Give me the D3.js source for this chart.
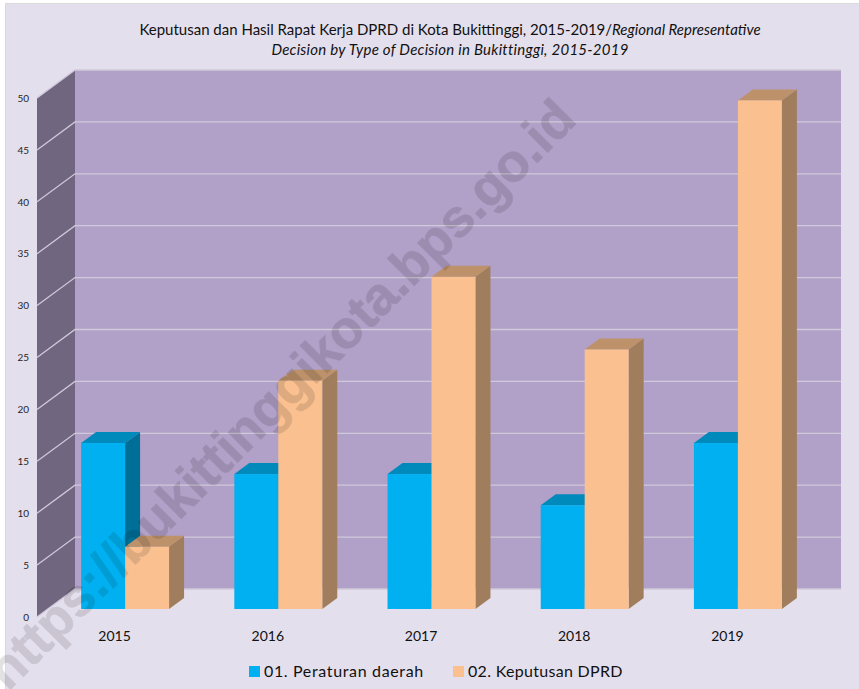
<!DOCTYPE html>
<html>
<head>
<meta charset="utf-8">
<script src="https://cdn.jsdelivr.net/npm/d3@7"></script>
<style>
    html, body { margin: 0; padding: 0; background: #fff; }
    svg { display: block; font-family: Lato, "Open Sans", sans-serif; }
</style>
</head>
<body>
<div id="chart"></div>
<script>
// values
const years = ["2015", "2016", "2017", "2018", "2019"];
const seriesNames = ["01. Peraturan daerah", "02. Keputusan DPRD"];
const perda = [16, 13, 13, 10, 16];
const keputusan = [6, 22, 32, 25, 49];
const yTicks = [0, 5, 10, 15, 20, 25, 30, 35, 40, 45, 50];
const titleLine1 = "Keputusan dan Hasil Rapat Kerja DPRD di Kota Bukittinggi, 2015-2019/";
const titleLine1b = "Regional Representative";
const titleLine2 = "Decision by Type of Decision in Bukittinggi, 2015-2019";
const watermark = "https://bukittinggikota.bps.go.id";

const width = 859, height = 689;

// 3d box of the chart
const wallDx = 38, wallDy = -28;   // depth of the walls
const barDx = 15, barDy = -11;     // depth of a bar
const left = 37, right = 803, top0 = 98, bottom0 = 617;
const barBase = 609;

const colors = {
    bg: "#e4dfec", back: "#b1a0c7", side: "#71667f", grid: "#d0c9da",
    blue: "#00b0f0", blueTop: "#0089bb", blueSide: "#006f98",
    orange: "#fac090", orangeTop: "#bd9169", orangeSide: "#a07d5c"
};

const svg = d3.select("#chart").append("svg")
    .attr("width", width)
    .attr("height", height);

// chart area
svg.append("rect")
    .attr("x", 5.5).attr("y", 3.5)
    .attr("width", width - 5).attr("height", height)
    .attr("fill", colors.bg)
    .attr("stroke", "#d9d9d9");

// scales
const x = d3.scaleBand().domain(years).range([left, right]);
const xInner = d3.scaleBand().domain(seriesNames)
    .range([x.bandwidth() * 0.288, x.bandwidth() * 0.862]);
const y = d3.scaleLinear().domain([0, 50]).range([bottom0, top0]);
const yBar = d3.scaleLinear().domain([0, 50]).range([barBase, barBase - (bottom0 - top0)]);

// back wall and side wall
svg.append("rect")
    .attr("x", left + wallDx).attr("y", y(50) + wallDy)
    .attr("width", right - left).attr("height", y(0) - y(50))
    .attr("fill", colors.back);

svg.append("path")
    .attr("d", "M" + left + "," + y(0) + "L" + left + "," + y(50)
        + "L" + (left + wallDx) + "," + (y(50) + wallDy)
        + "L" + (left + wallDx) + "," + (y(0) + wallDy) + "Z")
    .attr("fill", colors.side);

// gridlines run over both walls
yTicks.forEach(t => {
    svg.append("polyline")
        .attr("points", [
            [left, y(t)],
            [left + wallDx, y(t) + wallDy],
            [right + wallDx, y(t) + wallDy]
        ].join(" "))
        .attr("fill", "none")
        .attr("stroke", colors.grid)
        .attr("stroke-width", 1.3);
});

// y axis
const yAxis = d3.axisLeft(y).tickValues(yTicks).tickSize(0).tickPadding(8);
const yG = svg.append("g")
    .attr("transform", "translate(" + left + ",0)")
    .call(yAxis);
yG.select(".domain").remove();
yG.selectAll("text")
    .style("font-family", "Lato, sans-serif")
    .style("font-size", "10px")
    .attr("fill", "#262626");

// bars, front face plus top and side
function drawBars(values, name, face, topCol, sideCol) {
    const g = svg.append("g").selectAll("g")
        .data(values)
        .enter()
        .append("g")
        .attr("class", "bar");

    const bx = (d, i) => x(years[i]) + xInner(name);
    const bw = xInner.bandwidth();

    g.append("path")
        .attr("d", (d, i) => "M" + (bx(d, i) + bw) + "," + barBase
            + "L" + (bx(d, i) + bw) + "," + yBar(d)
            + "l" + barDx + "," + barDy
            + "L" + (bx(d, i) + bw + barDx) + "," + (barBase + barDy) + "Z")
        .attr("fill", sideCol);

    g.append("path")
        .attr("d", (d, i) => "M" + bx(d, i) + "," + yBar(d)
            + "l" + barDx + "," + barDy
            + "h" + bw
            + "l" + (-barDx) + "," + (-barDy) + "Z")
        .attr("fill", topCol);

    g.append("rect")
        .attr("x", (d, i) => bx(d, i))
        .attr("y", d => yBar(d))
        .attr("width", bw)
        .attr("height", d => barBase - yBar(d))
        .attr("fill", face);
}

drawBars(perda, seriesNames[0], colors.blue, colors.blueTop, colors.blueSide);
drawBars(keputusan, seriesNames[1], colors.orange, colors.orangeTop, colors.orangeSide);

// x axis
const xAxis = d3.axisBottom(x).tickSize(0).tickPadding(15);
const xG = svg.append("g")
    .attr("transform", "translate(1," + (barBase + 7) + ")")
    .call(xAxis);
xG.select(".domain").remove();
xG.selectAll("text")
    .style("font-family", "Lato, sans-serif")
    .style("font-size", "14px")
    .attr("fill", "#111");

// title
const title = svg.append("text")
    .attr("x", 450).attr("y", 35)
    .attr("text-anchor", "middle")
    .style("font-size", "15px")
    .attr("fill", "#111");
title.append("tspan").text(titleLine1);
title.append("tspan").style("font-style", "italic").text(titleLine1b);

svg.append("text")
    .attr("x", 450).attr("y", 55)
    .attr("text-anchor", "middle")
    .style("font-size", "15px")
    .style("letter-spacing", "0.25px")
    .style("font-style", "italic")
    .attr("fill", "#111")
    .text(titleLine2);

// legend
const legendX = [249, 453];
const legendCol = [colors.blue, colors.orange];
const legendSpacing = ["0.65px", "0.3px"];
seriesNames.forEach((s, i) => {
    svg.append("rect")
        .attr("x", legendX[i]).attr("y", 666)
        .attr("width", 11).attr("height", 11)
        .attr("fill", legendCol[i]);
    svg.append("text")
        .attr("x", legendX[i] + 15).attr("y", 677)
        .style("font-size", "16px")
        .style("letter-spacing", legendSpacing[i])
        .attr("fill", "#111")
        .text(s);
});

// watermark goes over everything, it runs off the lower left corner like the original
svg.append("text")
    .attr("transform", "translate(8,692) rotate(-45)")
    .style("font-family", "'Liberation Sans', Arial, sans-serif")
    .style("font-size", "53px")
    .style("font-weight", "bold")
    .attr("fill", "#000")
    .attr("stroke", "#000")
    .attr("stroke-width", 0.8)
    .attr("opacity", 0.11)
    .text(watermark);
</script>
</body>
</html>
